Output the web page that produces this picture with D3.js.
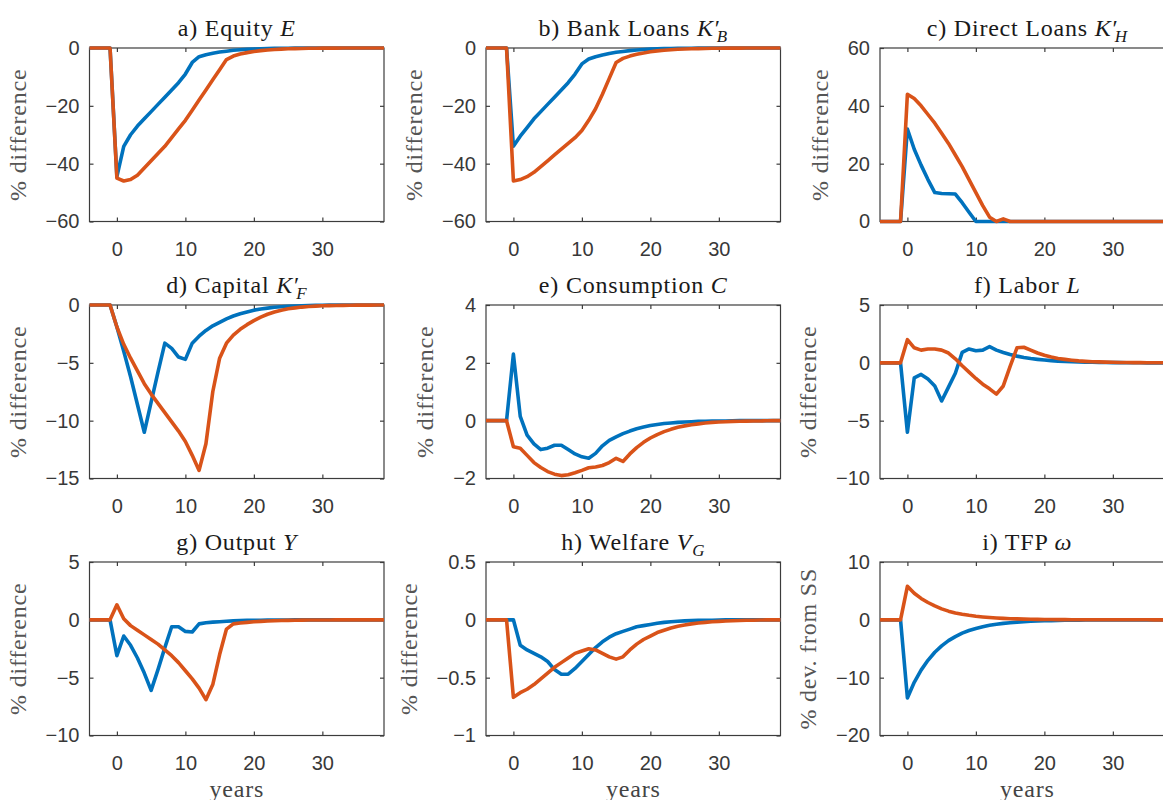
<!DOCTYPE html>
<html>
<head>
<meta charset="utf-8">
<title>Impulse responses</title>
<script src="https://d3js.org/d3.v7.min.js"></script>
<style>
  html, body { margin: 0; padding: 0; background: #fff; }
  svg { display: block; }
  .tick text { font-family: "Liberation Sans", Arial, Helvetica, sans-serif; font-size: 20px; fill: #383838; }
  .tick line { stroke: #3c3c3c; stroke-width: 1.2; }
</style>
</head>
<body>
<svg id="chart" width="1163" height="800"></svg>
<script>
// time axis (years after the shock)
const years = [-4,-3,-2,-1,0,1,2,3,4,5,6,7,8,9,10,11,12,13,14,15,16,17,18,19,20,
               21,22,23,24,25,26,27,28,29,30,31,32,33,34,35,36,37,38,39];
const xTicks = [0, 10, 20, 30];

// a) equity
const equityBlue = [0,0,0,0, -44.5,-34,-30,-27,-24.5,-22,-19.5,-17,-14.5,-12,-9,-5,-3,-2.3,-1.8,-1.4,-1.1,-0.8,-0.6,-0.45,
  -0.33,-0.25,-0.18,-0.13,-0.1,-0.07,-0.05,-0.04,-0.03,-0.02,-0.015,-0.01,-0.01,-0.005,-0.005,0,0,0,0,0];
const equityOrange = [0,0,0,0, -45,-46,-45.5,-44,-41.5,-39,-36.5,-34,-31,-28,-25,-21.5,-18,-14.5,-11,-7.5,-4,-2.8,-2.1,-1.6,
  -1.2,-0.9,-0.7,-0.5,-0.38,-0.28,-0.2,-0.15,-0.1,-0.07,-0.05,-0.04,-0.03,-0.02,-0.015,-0.01,-0.01,-0.005,0,0];
// b) bank loans
const bankBlue = [0,0,0,0, -34,-30.5,-27.5,-24.5,-22,-19.5,-17,-14.5,-12,-9,-5.5,-3.8,-3,-2.4,-1.9,-1.5,-1.2,-0.9,-0.7,-0.5,
  -0.4,-0.3,-0.22,-0.16,-0.12,-0.09,-0.07,-0.05,-0.04,-0.03,-0.02,-0.015,-0.01,-0.01,-0.005,0,0,0,0,0];
const bankOrange = [0,0,0,0, -46,-45.5,-44.5,-43,-41,-39,-37,-35,-33,-31,-28.5,-25,-21,-16,-10.5,-5,-3.6,-2.8,-2.2,-1.7,
  -1.3,-1,-0.8,-0.6,-0.45,-0.35,-0.26,-0.2,-0.15,-0.11,-0.08,-0.06,-0.045,-0.03,-0.02,-0.015,-0.01,-0.01,-0.005,0];
// c) direct loans
const directBlue = [0,0,0,0, 32,25,19.5,14.5,10,9.7,9.6,9.5,6.5,3.2,0,0,0,0,0,0,0,0,0,0,
  0,0,0,0,0,0,0,0,0,0,0,0,0,0,0,0,0,0,0,0];
const directOrange = [0,0,0,0, 44,42.5,40,37,34,30.5,27,23,19,14.5,10,5.5,1.5,0,0.9,0,0,0,0,0,
  0,0,0,0,0,0,0,0,0,0,0,0,0,0,0,0,0,0,0,0];
// d) capital
const capitalBlue = [0,0,0,0, -1.9,-4,-6.2,-8.6,-11,-8.4,-5.8,-3.3,-3.75,-4.5,-4.7,-3.3,-2.7,-2.2,-1.8,-1.5,-1.2,-0.95,-0.75,-0.6,
  -0.45,-0.35,-0.27,-0.2,-0.15,-0.11,-0.08,-0.06,-0.045,-0.03,-0.02,-0.015,-0.01,-0.01,-0.005,0,0,0,0,0];
const capitalOrange = [0,0,0,0, -1.9,-3.4,-4.6,-5.7,-6.8,-7.7,-8.5,-9.3,-10.1,-10.9,-11.8,-13,-14.3,-12,-7.5,-4.6,-3.3,-2.6,-2.1,-1.7,
  -1.35,-1.05,-0.8,-0.6,-0.45,-0.33,-0.25,-0.18,-0.13,-0.1,-0.07,-0.05,-0.04,-0.03,-0.02,-0.015,-0.01,-0.01,-0.005,0];
// e) consumption
const consBlue = [0,0,0,0, 2.3,0.15,-0.5,-0.8,-1,-0.95,-0.85,-0.85,-1,-1.15,-1.25,-1.3,-1.13,-0.87,-0.68,-0.56,-0.45,-0.36,-0.28,-0.22,
  -0.17,-0.13,-0.1,-0.08,-0.06,-0.045,-0.035,-0.025,-0.02,-0.015,-0.01,-0.01,-0.005,0,0,0,0,0,0,0];
const consOrange = [0,0,0,0, -0.9,-0.95,-1.2,-1.45,-1.62,-1.76,-1.85,-1.9,-1.87,-1.8,-1.72,-1.63,-1.6,-1.55,-1.45,-1.3,-1.41,-1.15,-0.93,-0.75,
  -0.6,-0.48,-0.38,-0.3,-0.23,-0.18,-0.14,-0.11,-0.08,-0.06,-0.045,-0.035,-0.025,-0.02,-0.015,-0.01,-0.01,-0.005,0,0];
// f) labor
const laborBlue = [0,0,0,0, -6,-1.3,-1,-1.4,-2,-3.3,-2.1,-0.9,0.9,1.2,1.05,1.1,1.4,1.1,0.9,0.72,0.58,0.46,0.37,0.3,
  0.24,0.19,0.15,0.12,0.09,0.07,0.055,0.045,0.035,0.025,0.02,0.015,0.01,0.01,0.005,0,0,0,0,0];
const laborOrange = [0,0,0,0, 2,1.3,1.1,1.2,1.2,1.1,0.85,0.35,-0.25,-0.8,-1.35,-1.85,-2.25,-2.7,-2,-0.3,1.3,1.35,1.1,0.85,
  0.65,0.5,0.38,0.3,0.23,0.17,0.13,0.1,0.08,0.06,0.045,0.035,0.025,0.02,0.015,0.01,0.01,0.005,0,0];
// g) output
const outputBlue = [0,0,0,0, -3.1,-1.4,-2.2,-3.3,-4.6,-6.1,-4.3,-2.4,-0.6,-0.6,-1,-1.05,-0.35,-0.25,-0.2,-0.16,-0.12,-0.09,-0.07,-0.05,
  -0.04,-0.03,-0.02,-0.015,-0.01,-0.01,-0.005,0,0,0,0,0,0,0,0,0,0,0,0,0];
const outputOrange = [0,0,0,0, 1.3,0.1,-0.5,-0.9,-1.3,-1.7,-2.1,-2.6,-3.1,-3.7,-4.4,-5.1,-5.9,-6.9,-5.6,-3,-0.8,-0.35,-0.28,-0.22,
  -0.17,-0.13,-0.1,-0.08,-0.06,-0.045,-0.035,-0.025,-0.02,-0.015,-0.01,-0.01,-0.005,0,0,0,0,0,0,0];
// h) welfare
const welfareBlue = [0,0,0,0, 0,-0.22,-0.26,-0.29,-0.32,-0.36,-0.43,-0.47,-0.47,-0.42,-0.36,-0.3,-0.24,-0.19,-0.15,-0.12,-0.1,-0.08,-0.06,-0.05,
  -0.04,-0.03,-0.022,-0.016,-0.012,-0.009,-0.007,-0.005,-0.004,-0.003,-0.002,0,0,0,0,0,0,0,0,0];
const welfareOrange = [0,0,0,0, -0.67,-0.63,-0.6,-0.56,-0.51,-0.46,-0.41,-0.37,-0.33,-0.29,-0.27,-0.25,-0.26,-0.29,-0.32,-0.34,-0.32,-0.26,-0.21,-0.17,
  -0.14,-0.11,-0.09,-0.07,-0.055,-0.045,-0.035,-0.028,-0.022,-0.017,-0.013,-0.01,-0.008,-0.006,-0.004,-0.003,-0.002,0,0,0];
// i) TFP
const tfpBlue = [0,0,0,0, -13.5,-10.8,-8.7,-7,-5.6,-4.5,-3.6,-2.9,-2.3,-1.85,-1.5,-1.2,-0.95,-0.76,-0.61,-0.49,-0.39,-0.31,-0.25,-0.2,
  -0.16,-0.13,-0.1,-0.08,-0.065,-0.05,-0.04,-0.03,-0.025,-0.02,-0.015,-0.012,-0.01,-0.008,-0.006,-0.005,-0.004,-0.003,-0.002,-0.002];
const tfpOrange = [0,0,0,0, 5.8,4.6,3.7,3,2.4,1.9,1.5,1.2,0.97,0.78,0.62,0.5,0.4,0.32,0.26,0.2,0.16,0.13,0.1,0.08,
  0.065,0.05,0.04,0.032,0.026,0.02,0.016,0.013,0.01,0.008,0.006,0.005,0.004,0.003,0.002,0.002,0.001,0.001,0,0];

// titles: [text, style] with style "" | "i" (italic) | "sub" (italic subscript) | "p" (prime)
const titles = [
  [["a) Equity ", ""], ["E", "i"]],
  [["b) Bank Loans ", ""], ["K", "i"], ["\u2032", "p"], ["B", "sub"]],
  [["c) Direct Loans ", ""], ["K", "i"], ["\u2032", "p"], ["H", "sub"]],
  [["d) Capital ", ""], ["K", "i"], ["\u2032", "p"], ["F", "sub"]],
  [["e) Consumption ", ""], ["C", "i"]],
  [["f) Labor ", ""], ["L", "i"]],
  [["g) Output ", ""], ["Y", "i"]],
  [["h) Welfare ", ""], ["V", "i"], ["G", "sub"]],
  [["i) TFP ", ""], ["\u03c9", "i"]]
];
const yLabels = ["% difference","% difference","% difference","% difference","% difference",
                 "% difference","% difference","% difference","% dev. from SS"];
const yDomains = [[-60,0],[-60,0],[0,60],[-15,0],[-2,4],[-10,5],[-10,5],[-1,0.5],[-20,10]];
const yTicks = [[-60,-40,-20,0],[-60,-40,-20,0],[0,20,40,60],[-15,-10,-5,0],[-2,0,2,4],
                [-10,-5,0,5],[-10,-5,0,5],[-1,-0.5,0,0.5],[-20,-10,0,10]];
const blueSeries = [equityBlue, bankBlue, directBlue, capitalBlue, consBlue, laborBlue, outputBlue, welfareBlue, tfpBlue];
const orangeSeries = [equityOrange, bankOrange, directOrange, capitalOrange, consOrange, laborOrange, outputOrange, welfareOrange, tfpOrange];

const blue = "#0072BD", orange = "#D95319";
const colLeft = [89.5, 486, 880];
const rowTop = [48, 305, 562];
const plotW = 294.5, plotH = 173.5;
const serifFont = "'Liberation Serif', 'Times New Roman', Times, serif";
const serifSize = 24;

const svg = d3.select("#chart");

function serifText(sel) {
  return sel.append("text")
    .style("font-family", serifFont)
    .style("font-size", serifSize + "px")
    .style("letter-spacing", "0.8px");
}

titles.forEach(function(title, i) {
  const c = i % 3, r = Math.floor(i / 3);
  const g = svg.append("g").attr("transform", `translate(${colLeft[c]},${rowTop[r]})`);

  const x = d3.scaleLinear().domain([-4, 39]).range([0, plotW]);
  const y = d3.scaleLinear().domain(yDomains[i]).range([plotH, 0]);

  // axes, ticks pointing inward on all four sides
  const left = g.append("g")
    .call(d3.axisLeft(y).tickValues(yTicks[i]).tickSize(-4).tickPadding(10).tickFormat(d3.format("")));
  g.append("g").attr("transform", `translate(${plotW},0)`)
    .call(d3.axisRight(y).tickValues(yTicks[i]).tickSize(-4).tickFormat(""));
  g.append("g").attr("transform", `translate(0,${plotH})`)
    .call(d3.axisBottom(x).tickValues(xTicks).tickSize(-4).tickPadding(20));
  g.append("g")
    .call(d3.axisTop(x).tickValues(xTicks).tickSize(-4).tickFormat(""));
  g.selectAll(".domain").remove();

  g.append("rect")
    .attr("width", plotW).attr("height", plotH)
    .attr("fill", "none").attr("stroke", "#3c3c3c").attr("stroke-width", 1.2);

  const line = d3.line().x(d => x(d[0])).y(d => y(d[1]));
  [[blueSeries[i], blue], [orangeSeries[i], orange]].forEach(function(s) {
    g.append("path")
      .datum(years.map((t, k) => [t, s[0][k]]))
      .attr("d", line)
      .attr("fill", "none")
      .attr("stroke", s[1])
      .attr("stroke-width", 3.6)
      .attr("stroke-linejoin", "round");
  });

  // title
  const t = serifText(g)
    .attr("x", plotW / 2).attr("y", -12)
    .attr("text-anchor", "middle")
    .attr("fill", "#1a1a1a");
  title.forEach(function(seg, k) {
    const ts = t.append("tspan").text(seg[0]);
    if (seg[1] === "i") ts.style("font-style", "italic");
    if (seg[1] === "p") ts.attr("dx", 1);
    if (seg[1] === "sub") {
      const afterPrime = k > 0 && title[k - 1][1] === "p";
      ts.style("font-style", "italic").style("font-size", "17px").attr("dy", 6).attr("dx", afterPrime ? -4 : 0);
    }
  });

  // y label placed left of the widest tick label
  const maxW = d3.max(left.selectAll("text").nodes(), n => n.getComputedTextLength());
  serifText(g)
    .attr("transform", `translate(${-(maxW + 30)},${plotH / 2}) rotate(-90)`)
    .attr("text-anchor", "middle")
    .attr("fill", "#555")
    .text(yLabels[i]);

  if (r === 2) {
    serifText(g)
      .attr("x", plotW / 2).attr("y", plotH + 61)
      .attr("text-anchor", "middle")
      .attr("fill", "#444")
      .text("years");
  }
});
</script>
</body>
</html>
